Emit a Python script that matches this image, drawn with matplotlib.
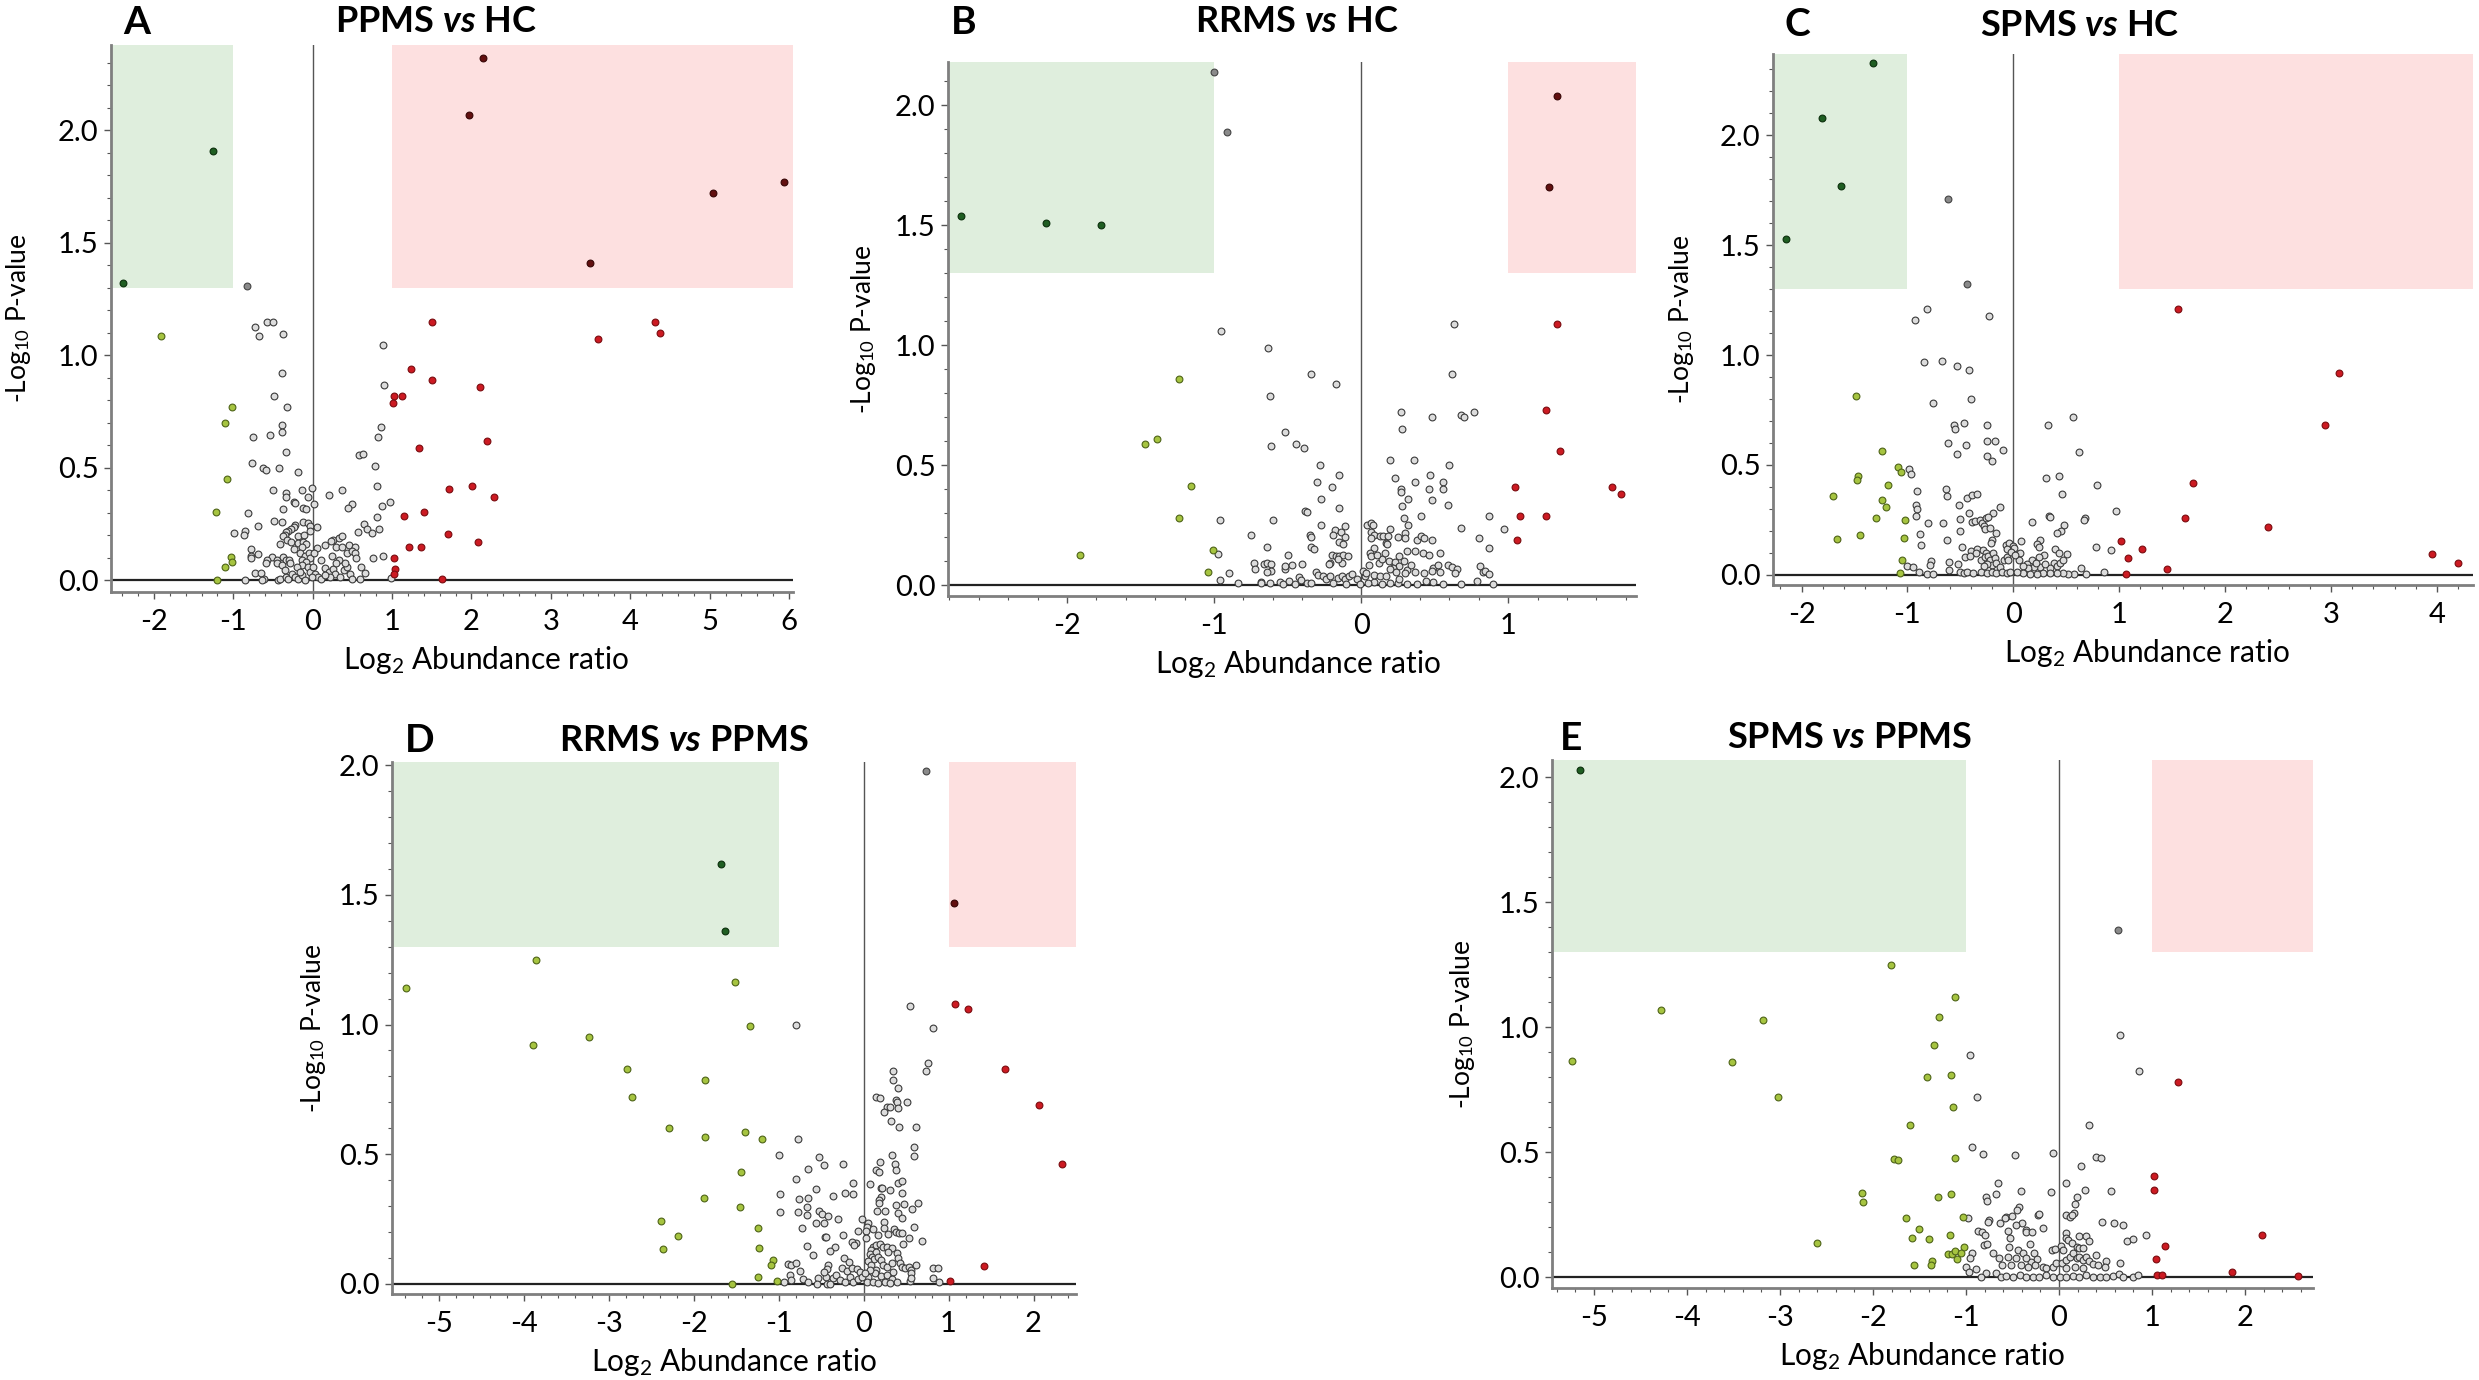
import numpy as np
import matplotlib
matplotlib.use("Agg")
import matplotlib.pyplot as plt
from matplotlib.patches import Rectangle
from matplotlib.ticker import MultipleLocator, FormatStrFormatter

plt.rcParams['font.family'] = ['Lato', 'DejaVu Sans']
plt.rcParams['mathtext.fontset'] = 'custom'
plt.rcParams['mathtext.rm'] = 'Lato'
plt.rcParams['mathtext.it'] = 'Lato:italic'
plt.rcParams['mathtext.bf'] = 'Lato:bold'
plt.rcParams['mathtext.bfit'] = 'Lato:italic:bold'
plt.rcParams['axes.unicode_minus'] = False

# ----------------------------
# data: (log2 abundance ratio, -log10 p)
# ----------------------------
ppms_vs_hc = [
    (2.14, 2.32), (1.97, 2.07), (5.94, 1.77), (5.04, 1.72), (3.49, 1.41),
    (-1.25, 1.91), (-2.39, 1.32), (-0.83, 1.31),
    (-1.91, 1.087), (-1.01, 0.77), (-1.10, 0.70), (-1.08, 0.45), (-1.22, 0.305),
    (-1.03, 0.104), (-1.01, 0.082), (-1.10, 0.06), (-1.20, 0.0),
    (1.50, 1.15), (4.31, 1.15), (4.38, 1.10), (3.60, 1.075), (1.24, 0.94), (1.50, 0.89),
    (2.11, 0.86), (1.03, 0.82), (1.12, 0.82), (1.01, 0.79), (2.19, 0.62), (1.34, 0.59),
    (1.72, 0.405), (2.01, 0.42), (2.28, 0.37), (1.15, 0.286), (1.40, 0.305), (1.71, 0.205),
    (2.08, 0.17), (1.21, 0.149), (1.37, 0.149), (1.02, 0.097), (1.04, 0.049), (1.03, 0.027),
    (1.63, 0.004),
    (0.89, 1.045), (0.90, 0.87), (0.86, 0.68), (0.82, 0.635), (-0.58, 1.15), (-0.50, 1.15),
    (-0.72, 1.125), (-0.68, 1.085), (-0.37, 1.095), (-0.39, 0.92), (-0.49, 0.82), (-0.32, 0.77),
    (-0.39, 0.69), (-0.38, 0.66), (-0.75, 0.635), (-0.54, 0.645),
    (-0.34, 0.57), (0.58, 0.555), (0.63, 0.56), (-0.76, 0.52), (-0.62, 0.50), (-0.59, 0.49),
    (-0.43, 0.50), (-0.19, 0.48), (0.78, 0.51), (0.81, 0.42), (-0.50, 0.40), (-0.34, 0.39),
    (-0.34, 0.37), (-0.14, 0.40), (-0.01, 0.41), (0.21, 0.38), (0.37, 0.40), (-0.06, 0.37),
    (-0.23, 0.35), (-0.22, 0.345), (0.02, 0.34), (0.49, 0.34), (0.44, 0.32), (0.98, 0.35),
    (0.87, 0.33), (-0.37, 0.315), (-0.12, 0.32), (-0.09, 0.315), (-0.81, 0.30), (0.81, 0.28),
    (-0.49, 0.265), (-0.38, 0.26), (-0.69, 0.24), (-0.22, 0.245), (-0.24, 0.235), (-0.27, 0.23),
    (-0.31, 0.22), (-0.34, 0.215), (-0.12, 0.26), (-0.06, 0.255), (-0.03, 0.24), (-0.03, 0.22),
    (0.06, 0.235), (-0.99, 0.21), (-0.85, 0.22), (-0.87, 0.20), (-0.35, 0.20), (-0.37, 0.195),
    (-0.32, 0.18), (-0.19, 0.195), (-0.11, 0.20), (0.57, 0.215), (0.65, 0.25), (0.68, 0.23),
    (0.83, 0.23), (0.75, 0.21), (0.26, 0.18), (0.23, 0.175), (0.33, 0.19), (0.37, 0.195),
    (-0.27, 0.17), (-0.19, 0.165), (-0.12, 0.17), (-0.08, 0.16), (-0.41, 0.16), (-0.23, 0.14),
    (-0.13, 0.15), (0.16, 0.155), (0.29, 0.15), (0.37, 0.15), (0.46, 0.155), (0.53, 0.15),
    (0.05, 0.145), (-0.78, 0.14), (-0.78, 0.11), (-0.78, 0.10), (-0.69, 0.115), (-0.51, 0.105),
    (-0.58, 0.09), (-0.59, 0.077), (-0.45, 0.09), (-0.45, 0.075), (-0.37, 0.105), (-0.34, 0.09),
    (-0.30, 0.092), (-0.29, 0.075), (-0.16, 0.12), (-0.10, 0.11), (-0.05, 0.12), (-0.03, 0.097),
    (-0.14, 0.09), (-0.08, 0.08), (-0.13, 0.067), (-0.06, 0.057), (-0.03, 0.037), (0.02, 0.12),
    (0.10, 0.09), (0.24, 0.11), (0.33, 0.09), (0.43, 0.12), (0.49, 0.13), (0.53, 0.12),
    (0.55, 0.097), (0.61, 0.06), (0.76, 0.097), (0.88, 0.107), (0.66, 0.034), (0.99, 0.012),
    (-0.73, 0.033), (-0.65, 0.033), (-0.61, 0.005), (-0.64, 0.003), (-0.85, 0.0), (-0.44, 0.003),
    (-0.41, 0.007), (-0.34, 0.015), (-0.31, 0.007), (-0.26, 0.03), (-0.22, 0.015), (-0.18, 0.007),
    (-0.13, 0.022), (-0.10, 0.003), (0.03, 0.03), (0.07, 0.015), (0.16, 0.055), (0.20, 0.037),
    (0.26, 0.052), (0.28, 0.03), (0.34, 0.015), (0.39, 0.045), (0.43, 0.06), (0.47, 0.03),
    (0.49, 0.007), (0.60, 0.007), (-0.39, 0.067), (-0.35, 0.045), (-0.20, 0.06), (-0.16, 0.037),
    (-0.01, 0.015), (0.11, 0.007), (0.22, 0.015), (0.30, 0.075), (0.41, 0.075), (0.16, 0.022),
    (0.01, 0.057),
]

rrms_vs_hc = [
    (-2.72, 1.54), (-2.14, 1.51), (-1.77, 1.50), (-1.00, 2.14), (-0.91, 1.89),
    (1.33, 2.04), (1.28, 1.66),
    (1.33, 1.09), (1.26, 0.73), (1.35, 0.56), (1.05, 0.41), (1.71, 0.41), (1.77, 0.38),
    (1.08, 0.29), (1.26, 0.29), (1.06, 0.19),
    (-1.24, 0.86), (-1.47, 0.59), (-1.39, 0.61), (-1.16, 0.415), (-1.24, 0.28), (-1.91, 0.125),
    (-1.01, 0.145), (-1.04, 0.055),
    (-0.95, 1.06), (-0.63, 0.99), (-0.34, 0.88), (-0.17, 0.84), (-0.62, 0.79), (0.63, 1.09),
    (0.62, 0.88), (0.27, 0.72), (0.68, 0.71), (0.70, 0.70), (0.77, 0.72),
    (-0.52, 0.64), (-0.61, 0.58), (-0.44, 0.59), (-0.39, 0.57), (-0.28, 0.50), (-0.30, 0.43),
    (-0.15, 0.46), (-0.20, 0.41), (-0.27, 0.36), (-0.15, 0.32), (-0.38, 0.31), (-0.37, 0.305),
    (-0.60, 0.27), (-0.96, 0.27), (-0.27, 0.25), (-0.75, 0.21), (-0.18, 0.23), (-0.19, 0.21),
    (-0.14, 0.22), (-0.11, 0.245), (-0.11, 0.20), (-0.35, 0.21), (-0.34, 0.20), (-0.15, 0.18),
    (-0.12, 0.17), (-0.34, 0.16), (-0.32, 0.15), (-0.64, 0.16), (-0.97, 0.13), (-0.50, 0.125),
    (-0.20, 0.125), (-0.17, 0.12), (-0.15, 0.12), (-0.12, 0.125), (-0.09, 0.12), (-0.13, 0.094),
    (-0.16, 0.108), (-0.21, 0.094), (-0.22, 0.087), (-0.73, 0.094), (-0.72, 0.069), (-0.66, 0.087),
    (-0.64, 0.094), (-0.61, 0.087), (-0.61, 0.059), (-0.52, 0.069), (-0.52, 0.08), (-0.47, 0.085),
    (-0.40, 0.09), (-0.31, 0.055), (-0.64, 0.056), (-0.90, 0.05), (-0.96, 0.02), (-0.84, 0.008),
    (-0.68, 0.015), (-0.68, 0.008), (-0.62, 0.008), (-0.55, 0.014), (-0.53, 0.003), (-0.49, 0.017),
    (-0.45, 0.003), (-0.42, 0.034), (-0.41, 0.02), (-0.37, 0.01), (-0.34, 0.01), (-0.29, 0.043),
    (-0.26, 0.038), (-0.24, 0.027), (-0.21, 0.038), (-0.19, 0.01), (-0.16, 0.031), (-0.13, 0.038),
    (-0.11, 0.024), (-0.10, 0.007), (-0.08, 0.038), (-0.06, 0.045), (-0.03, 0.027), (-0.01, 0.006),
    (0.28, 0.65), (0.48, 0.70), (0.195, 0.52), (0.36, 0.52), (0.60, 0.50), (0.23, 0.445),
    (0.47, 0.46), (0.56, 0.43), (0.27, 0.40), (0.27, 0.39), (0.365, 0.43), (0.46, 0.40),
    (0.56, 0.40), (0.485, 0.357), (0.32, 0.36), (0.28, 0.33), (0.59, 0.336), (0.29, 0.28),
    (0.41, 0.29), (0.32, 0.25), (0.87, 0.29), (0.68, 0.24), (0.97, 0.235), (0.80, 0.196),
    (0.87, 0.155), (0.04, 0.25), (0.07, 0.26), (0.08, 0.25), (0.07, 0.22), (0.09, 0.21),
    (0.13, 0.206), (0.20, 0.234), (0.15, 0.206), (0.18, 0.206), (0.25, 0.20), (0.30, 0.217),
    (0.30, 0.196), (0.38, 0.19), (0.41, 0.206), (0.43, 0.197), (0.48, 0.19), (0.17, 0.176),
    (0.175, 0.17), (0.07, 0.196), (0.09, 0.153), (0.31, 0.144), (0.37, 0.142), (0.42, 0.133),
    (0.46, 0.125), (0.54, 0.134), (0.26, 0.122), (0.06, 0.136), (0.066, 0.12), (0.12, 0.094),
    (0.14, 0.108), (0.16, 0.133), (0.19, 0.10), (0.23, 0.098), (0.26, 0.08), (0.29, 0.10),
    (0.31, 0.063), (0.34, 0.084), (0.37, 0.055), (0.22, 0.073), (0.195, 0.066), (0.24, 0.055),
    (0.11, 0.126), (0.49, 0.073), (0.52, 0.083), (0.48, 0.059), (0.54, 0.055), (0.59, 0.084),
    (0.62, 0.077), (0.65, 0.066), (0.64, 0.052), (0.81, 0.08), (0.83, 0.055), (0.84, 0.06),
    (0.87, 0.046), (0.43, 0.05), (0.79, 0.017), (0.90, 0.006), (0.68, 0.006), (0.56, 0.003),
    (0.49, 0.014), (0.44, 0.017), (0.38, 0.006), (0.31, 0.006), (0.25, 0.01), (0.195, 0.01),
    (0.14, 0.007), (0.09, 0.013), (0.05, 0.01), (0.025, 0.038), (0.014, 0.059), (0.054, 0.083),
    (0.036, 0.052), (0.09, 0.043), (0.13, 0.038), (0.17, 0.038), (0.26, 0.027), (0.30, 0.049),
]

spms_vs_hc = [
    (-1.33, 2.33), (-1.81, 2.08), (-1.63, 1.77), (-2.15, 1.53), (-0.62, 1.71), (-0.44, 1.325),
    (1.55, 1.21), (3.07, 0.92), (2.94, 0.68), (1.70, 0.42), (1.62, 0.26), (2.40, 0.22),
    (1.02, 0.155), (1.21, 0.12), (1.08, 0.078), (1.45, 0.028), (1.06, 0.006), (3.95, 0.094),
    (4.20, 0.052),
    (-1.49, 0.815), (-1.24, 0.565), (-1.09, 0.49), (-1.06, 0.47), (-1.47, 0.45), (-1.48, 0.43),
    (-1.18, 0.41), (-1.70, 0.36), (-1.24, 0.34), (-1.20, 0.31), (-1.30, 0.26), (-1.02, 0.25),
    (-1.67, 0.165), (-1.45, 0.18), (-1.03, 0.17), (-1.05, 0.07), (-1.07, 0.01),
    (-0.82, 1.21), (-0.93, 1.16), (-0.23, 1.18), (-0.84, 0.97), (-0.67, 0.975), (-0.53, 0.95),
    (-0.42, 0.93), (-0.76, 0.78), (-0.40, 0.80), (0.56, 0.72), (-0.56, 0.68), (-0.55, 0.665),
    (-0.47, 0.69), (-0.25, 0.68), (0.33, 0.68),
    (-0.62, 0.60), (-0.45, 0.59), (-0.25, 0.61), (-0.17, 0.61), (-0.10, 0.57), (-0.53, 0.55),
    (-0.25, 0.54), (-0.20, 0.52), (-0.99, 0.48), (-0.97, 0.46), (-0.91, 0.38), (-0.64, 0.39),
    (-0.63, 0.36), (-0.44, 0.35), (-0.39, 0.364), (-0.34, 0.37), (-0.92, 0.32), (-0.91, 0.30),
    (-0.92, 0.27), (-0.51, 0.32), (-0.42, 0.28), (-0.13, 0.31), (-0.19, 0.28), (-0.81, 0.235),
    (-0.66, 0.235), (-0.50, 0.255), (-0.39, 0.24), (-0.36, 0.247), (-0.32, 0.25), (-0.30, 0.235),
    (-0.26, 0.258), (-0.24, 0.262), (-0.28, 0.223), (-0.27, 0.208), (-0.22, 0.215), (-0.16, 0.19),
    (-0.50, 0.20), (-0.88, 0.187), (-0.87, 0.135), (-0.63, 0.158), (-0.20, 0.16), (-0.21, 0.144),
    (-0.49, 0.127), (-0.40, 0.109), (-0.34, 0.117), (-0.29, 0.114), (-0.26, 0.099), (-0.35, 0.099),
    (-0.31, 0.068), (-0.27, 0.08), (-0.24, 0.086), (-0.22, 0.068), (-0.19, 0.099), (-0.17, 0.076),
    (-0.20, 0.046), (-0.25, 0.05), (-0.28, 0.041), (-0.16, 0.053), (-0.13, 0.038), (-0.09, 0.068),
    (-0.06, 0.083), (-0.05, 0.068), (-0.07, 0.137), (-0.04, 0.147), (-0.006, 0.132), (0.006, 0.121),
    (-0.06, 0.117), (-0.46, 0.08), (-0.41, 0.086), (-0.52, 0.05), (-0.78, 0.065), (-0.79, 0.046),
    (-0.61, 0.058), (-1.00, 0.041), (-0.95, 0.035), (-0.89, 0.011), (-0.82, 0.003), (-0.76, 0.003),
    (-0.61, 0.023), (-0.50, 0.015), (-0.47, 0.008), (-0.44, 0.011), (-0.38, 0.008), (-0.31, 0.015),
    (-0.25, 0.008), (-0.20, 0.011), (-0.16, 0.008), (-0.11, 0.011), (-0.06, 0.008), (-0.03, 0.015),
    (0.62, 0.56), (0.31, 0.44), (0.43, 0.45), (0.79, 0.41), (0.46, 0.37), (0.97, 0.29),
    (0.34, 0.27), (0.35, 0.265), (0.18, 0.24), (0.68, 0.26), (0.67, 0.25), (0.48, 0.226),
    (0.45, 0.20), (0.41, 0.19), (0.25, 0.16), (0.07, 0.155), (0.22, 0.14), (0.24, 0.127),
    (0.39, 0.12), (0.43, 0.10), (0.51, 0.094), (0.78, 0.126), (0.92, 0.112), (0.29, 0.09),
    (0.24, 0.08), (0.18, 0.07), (0.13, 0.05), (0.06, 0.10), (0.05, 0.07), (0.38, 0.056),
    (0.35, 0.03), (0.41, 0.041), (0.44, 0.053), (0.47, 0.068), (0.25, 0.038), (0.19, 0.038),
    (0.14, 0.03), (0.09, 0.041), (0.64, 0.03), (0.86, 0.015), (0.69, 0.002), (0.57, 0.003),
    (0.52, 0.003), (0.47, 0.008), (0.41, 0.008), (0.35, 0.008), (0.28, 0.008), (0.22, 0.003),
    (0.16, 0.003), (0.09, 0.008), (0.03, 0.011), (-0.02, 0.106), (0.016, 0.091), (0.21, 0.053),
    (0.30, 0.05),
]

rrms_vs_ppms = [
    (-1.68, 1.62), (-1.63, 1.36), (1.06, 1.47), (0.74, 1.98),
    (1.08, 1.08), (1.23, 1.06), (1.67, 0.83), (2.07, 0.69), (2.34, 0.46), (1.42, 0.067),
    (1.02, 0.01),
    (-5.39, 1.14), (-3.86, 1.25), (-3.89, 0.92), (-3.23, 0.95), (-2.79, 0.83), (-2.73, 0.72),
    (-2.29, 0.60), (-1.87, 0.785), (-1.87, 0.565), (-1.88, 0.33), (-2.38, 0.24), (-2.18, 0.185),
    (-2.36, 0.135), (-1.51, 1.165), (-1.34, 0.995), (-1.39, 0.586), (-1.19, 0.557), (-1.44, 0.43),
    (-1.45, 0.297), (-1.24, 0.215), (-1.23, 0.139), (-1.07, 0.093), (-1.09, 0.072), (-1.24, 0.027),
    (-1.02, 0.009), (-1.55, 0.0),
    (0.55, 1.07), (-0.79, 1.0), (0.82, 0.985), (0.73, 0.82), (0.76, 0.85), (0.35, 0.82),
    (0.35, 0.785), (0.40, 0.754), (0.15, 0.72), (0.19, 0.716), (0.38, 0.71), (0.39, 0.70),
    (0.51, 0.70), (0.27, 0.683), (0.31, 0.68), (0.41, 0.678), (0.235, 0.663), (0.325, 0.628),
    (0.42, 0.605), (0.62, 0.605), (-0.77, 0.56), (0.59, 0.526), (0.59, 0.493), (-0.99, 0.497),
    (-0.53, 0.489), (0.33, 0.495), (0.19, 0.47), (0.37, 0.46), (0.38, 0.44), (-0.46, 0.457),
    (-0.24, 0.46), (-0.65, 0.443), (0.15, 0.44), (0.18, 0.43), (-0.79, 0.403), (-0.13, 0.39),
    (0.08, 0.386), (0.41, 0.39), (0.45, 0.395), (-0.56, 0.364), (0.21, 0.37), (0.22, 0.368),
    (0.31, 0.36), (0.45, 0.35), (-0.98, 0.346), (-0.76, 0.327), (-0.65, 0.33), (-0.36, 0.338),
    (-0.22, 0.35), (-0.13, 0.346), (0.20, 0.336), (0.18, 0.323), (0.64, 0.31), (0.18, 0.31),
    (0.38, 0.304), (0.48, 0.307), (0.57, 0.288), (-0.67, 0.295), (0.16, 0.28), (0.25, 0.28),
    (-0.98, 0.277), (-0.77, 0.277), (-0.52, 0.28), (-0.49, 0.268), (-0.67, 0.266), (-0.42, 0.26),
    (0.41, 0.274), (0.45, 0.255), (-0.30, 0.25), (-0.02, 0.25), (-0.56, 0.235), (-0.46, 0.234),
    (0.05, 0.233), (0.035, 0.22), (0.03, 0.205), (0.11, 0.21), (0.235, 0.236), (0.24, 0.216),
    (-0.06, 0.205), (0.36, 0.21), (0.38, 0.20), (0.415, 0.195), (0.45, 0.197), (0.59, 0.217),
    (-0.72, 0.216), (0.17, 0.188), (0.29, 0.19), (-0.24, 0.187), (-0.45, 0.18), (-0.44, 0.179),
    (0.53, 0.178), (0.03, 0.176), (0.69, 0.163), (-0.09, 0.158), (-0.14, 0.16), (-0.11, 0.15),
    (0.46, 0.154), (-0.66, 0.145), (-0.34, 0.143), (-0.39, 0.125),
    (0.11, 0.143), (0.09, 0.13), (0.075, 0.115), (0.15, 0.15), (0.19, 0.152), (0.23, 0.143),
    (0.27, 0.14), (0.34, 0.136), (0.29, 0.124), (0.39, 0.117), (0.15, 0.124), (0.094, 0.104),
    (0.12, 0.094), (0.17, 0.104), (0.21, 0.091), (0.055, 0.089), (0.086, 0.072), (0.23, 0.072),
    (0.27, 0.066), (0.33, 0.079), (0.41, 0.10), (0.43, 0.079), (0.45, 0.066), (0.49, 0.059),
    (0.53, 0.066), (0.56, 0.053), (0.62, 0.072), (0.56, 0.04), (0.35, 0.046), (0.15, 0.053),
    (0.13, 0.04), (0.075, 0.053), (0.055, 0.027), (0.21, 0.03), (0.27, 0.033), (0.33, 0.017),
    (0.39, 0.008), (-0.25, 0.062), (-0.20, 0.05), (-0.14, 0.059), (-0.08, 0.055), (-0.04, 0.046),
    (-0.94, 0.008), (-0.71, 0.017), (-0.65, 0.008), (-0.54, 0.02), (-0.44, 0.027), (-0.36, 0.02),
    (-0.32, 0.033), (-0.28, 0.014), (-0.22, 0.008), (-0.16, 0.027), (-0.12, 0.008), (-0.06, 0.017),
    (-0.02, 0.027), (0.016, 0.04), (0.035, 0.008), (-0.55, 0.0), (-0.435, 0.0), (-0.40, 0.0),
    (0.11, 0.008), (0.17, 0.004), (0.25, 0.008), (0.31, 0.001),
    (-0.60, 0.11), (-0.23, 0.098), (-0.17, 0.085), (-0.89, 0.075), (-0.86, 0.072), (-0.80, 0.078),
    (-0.75, 0.05), (-0.42, 0.072), (-0.43, 0.055), (-0.47, 0.046), (-0.87, 0.032), (-0.85, 0.014),
    (0.82, 0.062), (0.87, 0.062), (0.82, 0.02), (0.89, 0.006), (0.55, 0.01), (0.56, 0.02),
]

spms_vs_ppms = [
    (-5.15, 2.03), (0.63, 1.39),
    (1.28, 0.78), (1.02, 0.405), (1.02, 0.35), (2.18, 0.17), (1.14, 0.126), (1.04, 0.074),
    (1.05, 0.01), (1.11, 0.01), (1.86, 0.022), (2.57, 0.007),
    (-5.24, 0.865), (-4.28, 1.07), (-3.51, 0.863), (-3.18, 1.03), (-3.02, 0.72), (-2.60, 0.137),
    (-1.81, 1.25), (-1.12, 1.12), (-1.29, 1.04), (-1.34, 0.93), (-1.42, 0.80), (-1.16, 0.81),
    (-1.14, 0.68), (-1.60, 0.61), (-2.12, 0.337), (-2.11, 0.30),
    (-1.77, 0.473), (-1.73, 0.47), (-1.12, 0.476), (-1.30, 0.323), (-1.16, 0.333), (-1.64, 0.239),
    (-1.50, 0.193), (-1.58, 0.157), (-1.40, 0.155), (-1.17, 0.17), (-1.03, 0.24), (-1.02, 0.123),
    (-1.19, 0.092), (-1.15, 0.093), (-1.12, 0.105), (-1.05, 0.099), (-1.10, 0.073), (-1.37, 0.067),
    (-1.38, 0.048), (-1.56, 0.048),
    (-0.96, 0.89), (-0.88, 0.72), (0.66, 0.97), (0.86, 0.825), (0.32, 0.61), (-0.98, 0.239),
    (-0.94, 0.523), (-0.82, 0.492), (-0.47, 0.489), (-0.06, 0.499), (0.40, 0.48), (0.45, 0.476),
    (0.24, 0.447), (-0.66, 0.379), (0.075, 0.379), (-0.68, 0.333), (-0.78, 0.32), (-0.77, 0.307),
    (-0.41, 0.347), (-0.09, 0.343), (0.28, 0.35), (0.56, 0.347), (0.19, 0.32), (0.17, 0.292),
    (-0.43, 0.283), (-0.45, 0.269), (0.16, 0.259), (0.08, 0.25), (0.12, 0.24), (0.14, 0.248),
    (-0.23, 0.248), (-0.21, 0.252), (-0.57, 0.243), (-0.58, 0.236), (-0.51, 0.245), (-0.75, 0.229),
    (-0.76, 0.22), (-0.63, 0.216), (-0.40, 0.216), (-0.46, 0.208), (-0.17, 0.196), (0.46, 0.22),
    (0.59, 0.216), (0.69, 0.21), (-0.55, 0.185), (-0.36, 0.19), (-0.35, 0.18), (-0.29, 0.181),
    (-0.87, 0.187), (-0.83, 0.181), (-0.80, 0.168), (0.07, 0.176), (0.08, 0.156), (0.10, 0.15),
    (0.21, 0.165), (0.29, 0.165), (0.32, 0.147), (-0.53, 0.156), (0.94, 0.168), (0.73, 0.147),
    (0.80, 0.152), (-0.81, 0.128), (-0.77, 0.132), (-0.54, 0.123), (-0.31, 0.132), (0.025, 0.125),
    (0.04, 0.11), (-0.075, 0.109), (-0.04, 0.112), (0.14, 0.136), (0.19, 0.123), (0.22, 0.116),
    (0.26, 0.116), (-0.44, 0.11), (-0.39, 0.096), (-0.46, 0.076), (-0.71, 0.096), (-0.94, 0.099),
    (-0.96, 0.076),
    (-0.27, 0.096), (-0.24, 0.072), (-0.30, 0.063), (-0.35, 0.076), (-0.64, 0.076), (-0.55, 0.08),
    (-0.61, 0.049), (-0.52, 0.049), (-0.41, 0.049), (-0.33, 0.043), (-0.26, 0.049), (-0.17, 0.043),
    (-0.14, 0.036), (-0.065, 0.043), (-0.03, 0.056), (0.036, 0.056), (0.08, 0.069), (0.115, 0.083),
    (0.15, 0.096), (0.19, 0.076), (0.22, 0.083), (0.26, 0.069), (0.29, 0.083), (0.32, 0.067),
    (0.37, 0.053), (0.42, 0.049), (0.40, 0.089), (0.51, 0.067), (0.49, 0.043), (0.66, 0.056),
    (0.26, 0.036), (0.17, 0.043), (0.08, 0.036), (-1.00, 0.043), (-0.97, 0.023), (-0.89, 0.032),
    (-0.78, 0.016), (-0.84, 0.0), (-0.68, 0.016), (-0.62, 0.003), (-0.57, 0.005), (-0.50, 0.003),
    (-0.42, 0.009), (-0.35, 0.003), (-0.28, 0.003), (-0.21, 0.003), (-0.14, 0.009), (-0.065, 0.003),
    (0.007, 0.003), (0.08, 0.0), (0.15, 0.005), (0.22, 0.003), (0.29, 0.009), (0.37, 0.003),
    (0.44, 0.0), (0.51, 0.0), (0.58, 0.005), (0.64, 0.013), (0.69, 0.003), (0.79, 0.003),
    (0.85, 0.009),
]

panel_letters = ["A", "B", "C", "D", "E"]
panel_titles = [r"PPMS $\mathbfit{vs}$ HC", r"RRMS $\mathbfit{vs}$ HC", r"SPMS $\mathbfit{vs}$ HC",
                r"RRMS $\mathbfit{vs}$ PPMS", r"SPMS $\mathbfit{vs}$ PPMS"]
panel_data = [ppms_vs_hc, rrms_vs_hc, spms_vs_hc, rrms_vs_ppms, spms_vs_ppms]

FC_CUT = 1.0    # |log2 ratio| threshold
P_CUT = 1.3     # -log10(0.05)

# ----------------------------
# layout (pixels in a 2479x1380 canvas)
# ----------------------------
W, H = 2479, 1380
axes_px = [(111, 45, 793, 592), (948, 62, 1636, 596), (1773, 54, 2473, 585),
           (392, 762, 1076, 1294), (1552, 760, 2313, 1288)]
xlims = [(-2.54, 6.05), (-2.81, 1.87), (-2.27, 4.34), (-5.55, 2.5), (-5.45, 2.73)]
ylims = [(-0.052, 2.38), (-0.045, 2.18), (-0.046, 2.37), (-0.04, 2.013), (-0.043, 2.07)]
ylabelpads = [18, 12, 17, 8, 16]
xlabel_shift_px = [34, 6, 24, 0, -10]
letter_px = [(123, 22), (951, 22), (1785, 25), (405, 740), (1560, 738)]
title_px = [(436, 22), (1297, 22), (2080, 25), (684, 740), (1850, 738)]

GRAY_FC, GRAY_EC = "#dcdcdc", "#3a3a3a"
SIG_GRAY = "#8a8a8a"
DOWN_FC, DOWN_EC = "#a6c440", "#4e6418"
SIG_DOWN_FC, SIG_DOWN_EC = "#1f5e22", "#0b2f0c"
UP_FC, UP_EC = "#cc1a22", "#7a0c10"
SIG_UP_FC, SIG_UP_EC = "#621010", "#350505"
GREEN_BOX, RED_BOX = "#dfeedd", "#fde0e0"


def draw_panel(fig, rect, pts, xlim, ylim, ylabelpad, xshift):
    l, t, r, b = rect
    ax = fig.add_axes([l / W, 1 - b / H, (r - l) / W, (b - t) / H])
    ax.set_xlim(xlim)
    ax.set_ylim(ylim)

    # significance regions
    ax.add_patch(Rectangle((xlim[0], P_CUT), -FC_CUT - xlim[0], ylim[1] - P_CUT,
                           facecolor=GREEN_BOX, edgecolor="none", zorder=0))
    ax.add_patch(Rectangle((FC_CUT, P_CUT), xlim[1] - FC_CUT, ylim[1] - P_CUT,
                           facecolor=RED_BOX, edgecolor="none", zorder=0))
    ax.axhline(0, color="#222222", lw=1.6, zorder=1)
    ax.axvline(0, color="#555555", lw=1.0, zorder=1)

    x, y = np.array(pts).T
    sig = y >= P_CUT
    down = x < -FC_CUT
    up = x > FC_CUT
    mid = ~down & ~up
    groups = [
        (mid & ~sig, GRAY_FC, GRAY_EC),
        (mid & sig, SIG_GRAY, "#444444"),
        (down & ~sig, DOWN_FC, DOWN_EC),
        (down & sig, SIG_DOWN_FC, SIG_DOWN_EC),
        (up & ~sig, UP_FC, UP_EC),
        (up & sig, SIG_UP_FC, SIG_UP_EC),
    ]
    for mask, fc, ec in groups:
        ax.scatter(x[mask], y[mask], s=24, facecolor=fc, edgecolor=ec,
                   linewidth=0.8, zorder=3)

    for side in ("top", "right"):
        ax.spines[side].set_visible(False)
    for side in ("left", "bottom"):
        ax.spines[side].set_color("#7f7f7f")
        ax.spines[side].set_linewidth(2.0)

    ax.xaxis.set_major_locator(MultipleLocator(1))
    ax.xaxis.set_minor_locator(MultipleLocator(0.2))
    ax.yaxis.set_major_locator(MultipleLocator(0.5))
    ax.yaxis.set_minor_locator(MultipleLocator(0.1))
    ax.yaxis.set_major_formatter(FormatStrFormatter("%.1f"))
    ax.tick_params(which="major", length=5, width=1, color="#555555", labelsize=21)
    ax.tick_params(which="minor", length=3, width=0.8, color="#555555")
    ax.tick_params(axis="x", which="major", pad=7)
    ax.tick_params(axis="y", which="major", pad=4)

    ax.set_xlabel(r"Log$_2$ Abundance ratio", fontsize=21.5, labelpad=7)
    ax.xaxis.label.set_x(0.5 + xshift / (r - l))
    ax.set_ylabel(r"-Log$_{10}$ P-value", fontsize=19, labelpad=ylabelpad)
    return ax


fig = plt.figure(figsize=(W / 100, H / 100), dpi=100)

for i, pts in enumerate(panel_data):
    draw_panel(fig, axes_px[i], pts, xlims[i], ylims[i], ylabelpads[i], xlabel_shift_px[i])
    lx, ly = letter_px[i]
    fig.text(lx / W, 1 - ly / H, panel_letters[i], fontsize=28, fontweight="bold",
             ha="left", va="center")
    tx, ty = title_px[i]
    fig.text(tx / W, 1 - ty / H, panel_titles[i], fontsize=26, fontweight="bold",
             ha="center", va="center")

fig.savefig("out.png", dpi=100)
